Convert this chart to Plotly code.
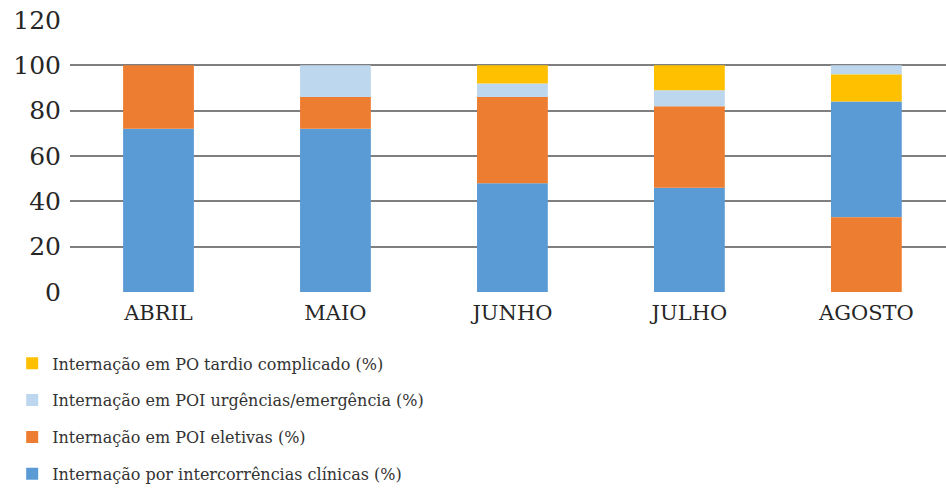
import plotly.graph_objects as go

months = ["ABRIL", "MAIO", "JUNHO", "JULHO", "AGOSTO"]
clinicas = [72, 72, 48, 46, 51]
eletivas = [28, 14, 38, 36, 33]
urgencias = [0, 14, 6, 7, 4]
tardio = [0, 0, 8, 11, 12]

names = {
    "clin": "Internação por intercorrências clínicas (%)",
    "elet": "Internação em POI eletivas (%)",
    "urg": "Internação em POI urgências/emergência (%)",
    "tard": "Internação em PO tardio complicado (%)",
}
colors = {"clin": "#5B9BD5", "elet": "#ED7D31", "urg": "#BDD7EE", "tard": "#FFC000"}
series = {"clin": clinicas, "elet": eletivas, "urg": urgencias, "tard": tardio}
ranks = {"tard": 1, "urg": 2, "elet": 3, "clin": 4}

# stacking order (bottom -> top) for each month, as drawn in the original
stack_order = [["clin", "elet", "urg", "tard"]] * 4 + [["elet", "clin", "tard", "urg"]]

bases = {k: [] for k in series}
for i, order in enumerate(stack_order):
    acc = 0
    for k in order:
        bases[k].append(acc)
        acc += series[k][i]

SERIF = "DejaVu Serif"

fig = go.Figure()
for k in ["clin", "elet", "urg", "tard"]:
    fig.add_trace(go.Bar(
        x=months, y=series[k], base=bases[k], name=names[k],
        marker=dict(color=colors[k], line=dict(width=0)),
        width=0.4, legendgroup=k, legendrank=ranks[k],
    ))

fig.update_layout(
    width=946, height=498,
    margin=dict(l=70, r=0, t=20, b=206),
    barmode="overlay",
    plot_bgcolor="white", paper_bgcolor="white",
    font=dict(family=SERIF, color="#262626"),
    showlegend=True,
    legend=dict(
        x=-0.066, xanchor="left", y=-0.2, yanchor="top",
        orientation="v", traceorder="grouped", tracegroupgap=13,
        font=dict(family=SERIF, size=16, color="#333333"),
        bgcolor="rgba(0,0,0,0)",
    ),
    xaxis=dict(
        range=[-0.5, 4.45], showline=False, ticks="", showgrid=False,
        tickfont=dict(family=SERIF, size=21, color="#262626"),
        ticklabelstandoff=6,
    ),
    yaxis=dict(
        range=[0, 120], dtick=20, tick0=0, showgrid=True, gridcolor="#7f7f7f",
        gridwidth=1.5, zeroline=False, showline=False, ticks="",
        tickfont=dict(family=SERIF, size=25, color="#262626"),
        ticklabelstandoff=8,
    ),
)

fig.write_html("out.html")
